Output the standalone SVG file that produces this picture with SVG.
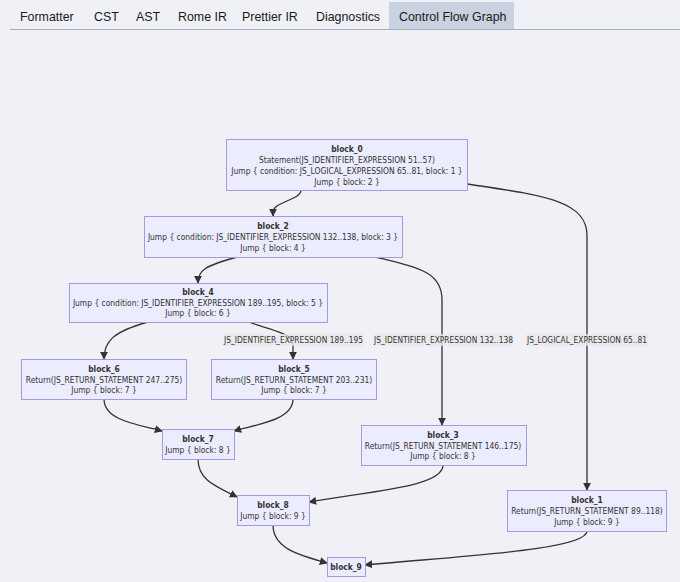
<svg xmlns="http://www.w3.org/2000/svg" width="680" height="582" viewBox="0 0 680 582">
<defs>
<marker id="arr" viewBox="0 0 10 10" refX="9" refY="5" markerWidth="8" markerHeight="8" markerUnits="userSpaceOnUse" orient="auto">
<path d="M0,0 L10,5 L0,10 z" fill="#333"/>
</marker>
<style>
.tab{font-family:"Liberation Sans",Arial,sans-serif;font-size:12.4px;fill:#1a1a1a}
.node rect{fill:#ececff;stroke:#a996de;stroke-width:1}
.node text{font-family:"DejaVu Sans Condensed","DejaVu Sans",sans-serif;font-size:8.4px;fill:#333;text-anchor:middle}
.node text.t{font-weight:bold}
.edge{fill:none;stroke:#333;stroke-width:1.3;marker-end:url(#arr)}
.lbl rect{fill:#e8e8e8;opacity:0.8}
.lbl text{font-family:"DejaVu Sans Condensed","DejaVu Sans",sans-serif;font-size:8.3px;fill:#333;text-anchor:middle}
</style>
</defs>
<rect width="680" height="582" fill="#eff1f7"/>
<g id="tabs">
<rect x="389" y="2" width="125" height="27" fill="#c9d2e0"/>
<line x1="10" y1="29.5" x2="680" y2="29.5" stroke="#a9adb5" stroke-width="1"/>
<text class="tab" x="20" y="21">Formatter</text>
<text class="tab" x="94" y="21">CST</text>
<text class="tab" x="136" y="21">AST</text>
<text class="tab" x="178" y="21">Rome IR</text>
<text class="tab" x="242" y="21">Prettier IR</text>
<text class="tab" x="316" y="21">Diagnostics</text>
<text class="tab" x="399" y="21">Control Flow Graph</text>
</g>
<g id="connectors">
<path class="edge" d="M301,190 C301,200 273,202 273,212 L273,216"/>
<path class="edge" d="M467,184 C540,195 587,200 587,235 L587,490"/>
<path class="edge" d="M237,257 C205,266 198,270 198,283"/>
<path class="edge" d="M375,257 C420,268 442,272 442,300 L442,425"/>
<path class="edge" d="M148,322 C112,332 104,342 104,359"/>
<path class="edge" d="M248,322 C280,332 293,335 293,345 L293,359"/>
<path class="edge" d="M104,399 C104,420 135,424 162,431"/>
<path class="edge" d="M293,399 C293,420 258,424 234,431"/>
<path class="edge" d="M198,459 C198,480 215,486 237,497"/>
<path class="edge" d="M443,465 C443,486 380,490 309,502"/>
<path class="edge" d="M273,525 C273,548 298,555 327,563"/>
<path class="edge" d="M587,531 C587,550 460,556 365,565"/>
<g class="lbl"><rect x="224" y="334" width="139" height="12"/><text x="293.5" y="343">JS_IDENTIFIER_EXPRESSION 189..195</text></g>
<g class="lbl"><rect x="374" y="334" width="139" height="12"/><text x="443.5" y="343">JS_IDENTIFIER_EXPRESSION 132..138</text></g>
<g class="lbl"><rect x="526" y="334" width="122" height="12"/><text x="587" y="343">JS_LOGICAL_EXPRESSION 65..81</text></g>
</g>
<g id="block_0" class="node"><rect x="226.5" y="139.5" width="241" height="51"/>
<text class="t" x="347" y="152">block_0</text>
<text x="347" y="163">Statement(JS_IDENTIFIER_EXPRESSION 51..57)</text>
<text x="347" y="174">Jump { condition: JS_LOGICAL_EXPRESSION 65..81, block: 1 }</text>
<text x="347" y="185">Jump { block: 2 }</text></g>
<g id="block_2" class="node"><rect x="144.5" y="216.5" width="258" height="41"/>
<text class="t" x="273" y="229">block_2</text>
<text x="273" y="240">Jump { condition: JS_IDENTIFIER_EXPRESSION 132..138, block: 3 }</text>
<text x="273" y="251">Jump { block: 4 }</text></g>
<g id="block_4" class="node"><rect x="69.5" y="283.5" width="258" height="39"/>
<text class="t" x="198" y="295">block_4</text>
<text x="198" y="305.5">Jump { condition: JS_IDENTIFIER_EXPRESSION 189..195, block: 5 }</text>
<text x="198" y="316">Jump { block: 6 }</text></g>
<g id="block_6" class="node"><rect x="21.5" y="359.5" width="165" height="40"/>
<text class="t" x="104" y="372">block_6</text>
<text x="104" y="382.5">Return(JS_RETURN_STATEMENT 247..275)</text>
<text x="104" y="393">Jump { block: 7 }</text></g>
<g id="block_5" class="node"><rect x="211.5" y="359.5" width="165" height="40"/>
<text class="t" x="294" y="372">block_5</text>
<text x="294" y="382.5">Return(JS_RETURN_STATEMENT 203..231)</text>
<text x="294" y="393">Jump { block: 7 }</text></g>
<g id="block_7" class="node"><rect x="162.5" y="429.5" width="72" height="30"/>
<text class="t" x="198" y="442">block_7</text>
<text x="198" y="453">Jump { block: 8 }</text></g>
<g id="block_3" class="node"><rect x="361.5" y="425.5" width="165" height="40"/>
<text class="t" x="443" y="438">block_3</text>
<text x="443" y="448.5">Return(JS_RETURN_STATEMENT 146..175)</text>
<text x="443" y="459">Jump { block: 8 }</text></g>
<g id="block_8" class="node"><rect x="237.5" y="495.5" width="72" height="30"/>
<text class="t" x="273" y="508">block_8</text>
<text x="273" y="519">Jump { block: 9 }</text></g>
<g id="block_1" class="node"><rect x="507.5" y="490.5" width="159" height="41"/>
<text class="t" x="587" y="503">block_1</text>
<text x="587" y="514">Return(JS_RETURN_STATEMENT 89..118)</text>
<text x="587" y="524.5">Jump { block: 9 }</text></g>
<g id="block_9" class="node"><rect x="327.5" y="557.5" width="38" height="19"/>
<text class="t" x="346" y="570">block_9</text></g>
</svg>
